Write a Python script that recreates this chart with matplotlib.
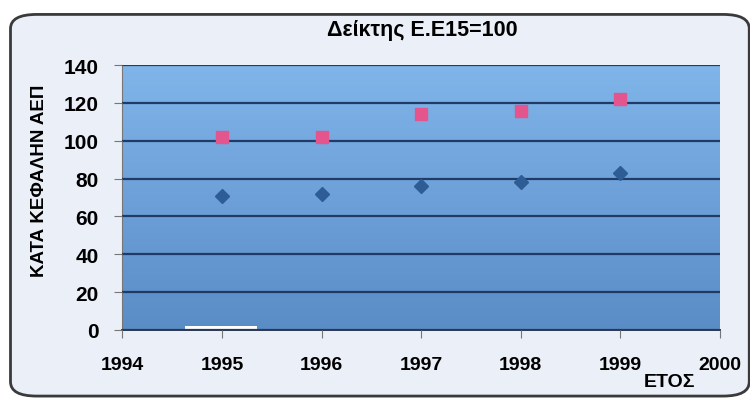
import numpy as np
import matplotlib.pyplot as plt
from matplotlib.patches import FancyBboxPatch, Rectangle
from matplotlib.colors import LinearSegmentedColormap

plt.rcParams['font.family'] = ['Liberation Sans', 'DejaVu Sans']

years = [1995, 1996, 1997, 1998, 1999]
index_blue = [71, 72, 76, 78, 83]
index_pink = [102, 102, 114, 116, 122]
x_ticks = [1994, 1995, 1996, 1997, 1998, 1999, 2000]
y_ticks = [0, 20, 40, 60, 80, 100, 120, 140]

fig = plt.figure(figsize=(7.5, 4.06), dpi=100)
fig.patch.set_facecolor('white')

# rounded chart frame on a background axes
bg = fig.add_axes([0, 0, 1, 1], zorder=-1)
bg.set_axis_off()
bg.set_xlim(0, 1)
bg.set_ylim(0, 1)
bg.add_patch(FancyBboxPatch((0.014, 0.022), 0.985, 0.94, boxstyle='round,pad=0,rounding_size=0.035',
                            facecolor='#eaeff8', edgecolor='#3a3a3a', linewidth=2.0))

ax = fig.add_axes([0.163, 0.185, 0.797, 0.652])
ax.set_xlim(1994, 2000)
ax.set_ylim(0, 140)

# gradient plot area
grad = np.linspace(0, 1, 256).reshape(-1, 1)
cmap = LinearSegmentedColormap.from_list('bg', ['#5a8cc6', '#80b5ea'])
ax.imshow(grad, extent=[1994, 2000, 0, 140], origin='lower', cmap=cmap,
          aspect='auto', zorder=0)

ax.set_yticks(y_ticks)
ax.set_xticks(x_ticks)
ax.grid(axis='y', color='#1f3b66', linewidth=1.6, zorder=1)
ax.set_axisbelow(False)

ax.plot(years, index_blue, linestyle='none', marker='D', markersize=7,
        color='#2d5d94', zorder=3)
ax.plot(years, index_pink, linestyle='none', marker='s', markersize=8.5,
        color='#e4558d', zorder=3)

# small white artifact at bottom
ax.add_patch(Rectangle((1994.63, 0), 0.72, 2.2, facecolor='white', edgecolor='none', zorder=2))

for side in ['top', 'right']:
    ax.spines[side].set_visible(False)
ax.spines['left'].set_color('#777777')
ax.spines['bottom'].set_color('#2a3550')
ax.spines['bottom'].set_linewidth(1.4)
ax.tick_params(axis='y', labelsize=15, length=6, color='#777777', pad=11)
ax.tick_params(axis='x', labelsize=14, length=6, color='#777777', pad=13)
for lbl in ax.get_yticklabels() + ax.get_xticklabels():
    lbl.set_fontweight('bold')

fig.text(0.053, 0.555, 'ΚΑΤΑ ΚΕΦΑΛΗΝ ΑΕΠ', fontsize=13.5, fontweight='bold',
         rotation=90, ha='center', va='center')
fig.text(0.563, 0.925, 'Δείκτης Ε.Ε15=100', fontsize=15.5, fontweight='bold',
         ha='center', va='center')
fig.text(0.893, 0.057, 'ΕΤΟΣ', fontsize=14, fontweight='bold', ha='center', va='center')

fig.savefig('out.png', dpi=100, facecolor=fig.get_facecolor())
